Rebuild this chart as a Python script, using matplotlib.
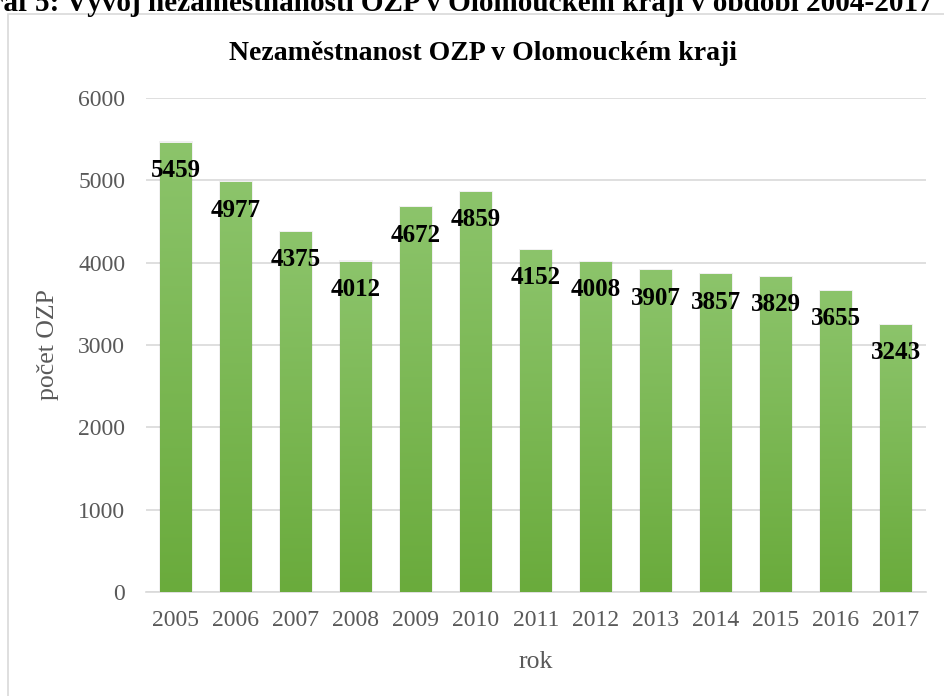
import matplotlib
matplotlib.use("Agg")
import matplotlib.pyplot as plt
import numpy as np
from matplotlib.colors import LinearSegmentedColormap
from matplotlib.patches import Rectangle

years = ["2005", "2006", "2007", "2008", "2009", "2010", "2011",
         "2012", "2013", "2014", "2015", "2016", "2017"]
values = [5459, 4977, 4375, 4012, 4672, 4859, 4152,
          4008, 3907, 3857, 3829, 3655, 3243]
yticks = [0, 1000, 2000, 3000, 4000, 5000, 6000]

plt.rcParams['font.family'] = ['Liberation Serif', 'DejaVu Serif']

W, H = 945, 696
fig = plt.figure(figsize=(W / 100, H / 100), dpi=100)

# caption (cut off at the top edge, as in the reference)
fig.text(450 / W, 1 - 11 / H, "Graf 5: Vývoj nezaměstnanosti OZP v Olomouckém kraji v období 2004-2017",
         ha='center', va='baseline', fontsize=21, fontweight='bold', color='black')

# chart border
fig.add_artist(Rectangle((8 / W, -0.1), 1.2, 1 - 14 / H + 0.1, transform=fig.transFigure,
                         fill=False, edgecolor='#d9d9d9', linewidth=1.2))

left, right = 146 / W, 926 / W
bottom, top = 1 - 592 / H, 1 - 98 / H
ax = fig.add_axes([left, bottom, right - left, top - bottom])

for s in ['top', 'right', 'left']:
    ax.spines[s].set_visible(False)
ax.spines['bottom'].set_color('#d9d9d9')
ax.spines['bottom'].set_linewidth(1.2)
ax.set_yticks(yticks)
ax.yaxis.grid(True, color='#d9d9d9', linewidth=1.2)
ax.set_axisbelow(True)
ax.tick_params(axis='both', length=0, labelsize=17, colors='#595959')
ax.tick_params(axis='y', pad=15)
ax.tick_params(axis='x', pad=13)
ax.set_xticks(range(len(years)))
ax.set_xticklabels(years)

cmap = LinearSegmentedColormap.from_list('g', ['#6aab3c', '#8cc46b'])
grad = np.linspace(0, 1, 256).reshape(-1, 1)
bw = 0.52
bars = ax.bar(range(len(years)), values, width=bw, color='none', zorder=3)
for i, (b, v) in enumerate(zip(bars, values)):
    # soft shadow
    ax.add_patch(Rectangle((i - bw / 2 - 0.03, 0), bw + 0.06, v + 15,
                           facecolor='#000000', alpha=0.06, edgecolor='none', zorder=2))
    im = ax.imshow(grad, cmap=cmap, aspect='auto', origin='lower',
                   extent=(i - bw / 2, i + bw / 2, 0, v), zorder=3)
    im.set_clip_path(b)
    ax.annotate(f"{v}", (i, v), xytext=(0, -20), textcoords='offset points',
                ha='center', va='center', fontsize=18, fontweight='bold',
                color='black', zorder=5)
ax.set_xlim(-0.5, len(years) - 0.5)
ax.set_ylim(0, 6000)

fig.text(483 / W, 1 - 60 / H, "Nezaměstnanost OZP v Olomouckém kraji", fontsize=20,
         fontweight='bold', color='black', ha='center', va='baseline')
ax.set_ylabel("počet OZP", fontsize=18.5, color='#595959', labelpad=14)
ax.set_xlabel("rok", fontsize=18.5, color='#595959', labelpad=14)

fig.savefig("out.png", dpi=100)
